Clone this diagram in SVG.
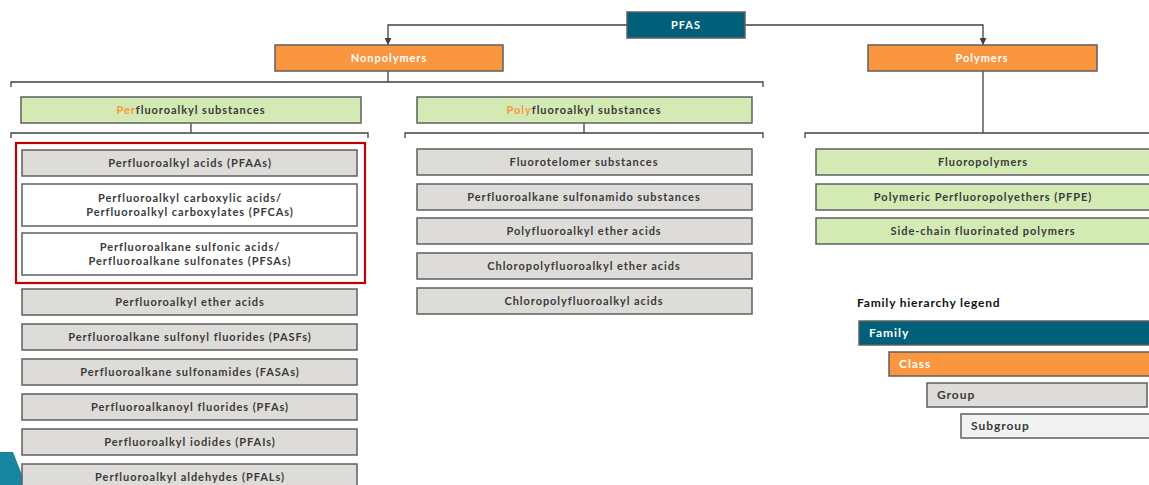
<svg xmlns="http://www.w3.org/2000/svg" width="1149" height="485" viewBox="0 0 1149 485">
<defs>
<style>
.t{font-family:Lato,"Open Sans","Liberation Sans",sans-serif;font-weight:bold;font-size:11px;fill:#3a3a3a;text-anchor:middle;letter-spacing:0.95px}
.w{fill:#ffffff}
.b{stroke:#5f5f5f;stroke-width:1.5}
.fam{fill:#00607a}
.cls{fill:#f9963f}
.grp{fill:#d3eab4}
.sub{fill:#dedcd9}
.wh{fill:#ffffff}
.lt{fill:#f2f2f2}
.c{fill:none;stroke:#404040;stroke-width:1.3}
.lg{text-anchor:start}
.or{fill:#f9963f}
</style>
<marker id="ah" viewBox="0 0 10 10" refX="10" refY="5" markerWidth="7" markerHeight="7" markerUnits="userSpaceOnUse" orient="auto">
<path d="M0,0 L10,5 L0,10 z" fill="#404040"/>
</marker>
</defs>
<rect width="1149" height="485" fill="#ffffff"/>
<polygon points="0,452 13,452 26,485 0,485" fill="#17869e"/>
<g id="connectors">
<path class="c" d="M627,25 H388 V45" marker-end="url(#ah)"/>
<path class="c" d="M745,25 H983 V45" marker-end="url(#ah)"/>
<path class="c" d="M388,71 V82"/>
<path class="c" d="M11,87 V82 H763 V87"/>
<path class="c" d="M191,123 V133"/>
<path class="c" d="M11,138 V133 H368 V138"/>
<path class="c" d="M584,123 V133"/>
<path class="c" d="M405,138 V133 H763 V138"/>
<path class="c" d="M983,71 V133"/>
<path class="c" d="M805,138 V133 H1150"/>
</g>
<g id="pfas"><rect class="fam b" x="627" y="12" width="118" height="26"/><text class="t w" x="686" y="29">PFAS</text></g>
<g id="nonpolymers"><rect class="cls b" x="275" y="45" width="228" height="26"/><text class="t w" x="389" y="62">Nonpolymers</text></g>
<g id="polymers"><rect class="cls b" x="868" y="45" width="229" height="26"/><text class="t w" x="982" y="62">Polymers</text></g>
<g id="perfluoroalkyl-substances"><rect class="grp b" x="21" y="97" width="340" height="26"/><text class="t" x="191" y="114"><tspan class="or">Per</tspan>fluoroalkyl substances</text></g>
<g id="polyfluoroalkyl-substances"><rect class="grp b" x="417" y="97" width="335" height="26"/><text class="t" x="584" y="114"><tspan class="or">Poly</tspan>fluoroalkyl substances</text></g>
<g id="pfaa-highlight"><rect x="16" y="143" width="349" height="140" fill="none" stroke="#c00000" stroke-width="2.2"/></g>
<g id="pfaas"><rect class="sub b" x="22" y="150" width="335" height="26"/><text class="t" x="190" y="167">Perfluoroalkyl acids (PFAAs)</text></g>
<g id="pfcas"><rect class="wh b" x="22" y="184" width="335" height="42"/><text class="t" x="190" y="202">Perfluoroalkyl carboxylic acids/</text><text class="t" x="190" y="215.5">Perfluoroalkyl carboxylates (PFCAs)</text></g>
<g id="pfsas"><rect class="wh b" x="22" y="233" width="335" height="42"/><text class="t" x="190" y="251">Perfluoroalkane sulfonic acids/</text><text class="t" x="190" y="264.5">Perfluoroalkane sulfonates (PFSAs)</text></g>
<g id="pf-ether-acids"><rect class="sub b" x="22" y="289" width="335" height="26"/><text class="t" x="190" y="306">Perfluoroalkyl ether acids</text></g>
<g id="pasfs"><rect class="sub b" x="22" y="324" width="335" height="26"/><text class="t" x="190" y="341">Perfluoroalkane sulfonyl fluorides (PASFs)</text></g>
<g id="fasas"><rect class="sub b" x="22" y="359" width="335" height="26"/><text class="t" x="190" y="376">Perfluoroalkane sulfonamides (FASAs)</text></g>
<g id="pfas-fluorides"><rect class="sub b" x="22" y="394" width="335" height="26"/><text class="t" x="190" y="411">Perfluoroalkanoyl fluorides (PFAs)</text></g>
<g id="pfais"><rect class="sub b" x="22" y="429" width="335" height="26"/><text class="t" x="190" y="446">Perfluoroalkyl iodides (PFAIs)</text></g>
<g id="pfals"><rect class="sub b" x="22" y="464" width="335" height="26"/><text class="t" x="190" y="481">Perfluoroalkyl aldehydes (PFALs)</text></g>
<g id="fluorotelomer"><rect class="sub b" x="417" y="149" width="335" height="26"/><text class="t" x="584" y="166">Fluorotelomer substances</text></g>
<g id="sulfonamido"><rect class="sub b" x="417" y="184" width="335" height="26"/><text class="t" x="584" y="201">Perfluoroalkane sulfonamido substances</text></g>
<g id="poly-ether-acids"><rect class="sub b" x="417" y="218" width="335" height="26"/><text class="t" x="584" y="235">Polyfluoroalkyl ether acids</text></g>
<g id="chloro-ether-acids"><rect class="sub b" x="417" y="253" width="335" height="26"/><text class="t" x="584" y="270">Chloropolyfluoroalkyl ether acids</text></g>
<g id="chloro-acids"><rect class="sub b" x="417" y="288" width="335" height="26"/><text class="t" x="584" y="305">Chloropolyfluoroalkyl acids</text></g>
<g id="fluoropolymers"><rect class="grp b" x="816" y="149" width="340" height="26"/><text class="t" x="983" y="166">Fluoropolymers</text></g>
<g id="pfpe"><rect class="grp b" x="816" y="184" width="340" height="26"/><text class="t" x="983" y="201">Polymeric Perfluoropolyethers (PFPE)</text></g>
<g id="side-chain"><rect class="grp b" x="816" y="218" width="340" height="26"/><text class="t" x="983" y="235">Side-chain fluorinated polymers</text></g>
<g id="legend">
<text class="t lg" x="857" y="307" style="fill:#111111;font-size:12px;letter-spacing:0.8px">Family hierarchy legend</text>
<rect class="fam b" x="859" y="321" width="300" height="24"/><text class="t lg w" x="869" y="337" style="font-size:12px">Family</text>
<rect class="cls b" x="889" y="352" width="270" height="24"/><text class="t lg w" x="899" y="368" style="font-size:12px">Class</text>
<rect class="sub b" x="927" y="383" width="220" height="24"/><text class="t lg" x="937" y="399" style="font-size:12px">Group</text>
<rect class="lt b" x="961" y="414" width="200" height="24"/><text class="t lg" x="971" y="430" style="font-size:12px">Subgroup</text>
</g>
</svg>
